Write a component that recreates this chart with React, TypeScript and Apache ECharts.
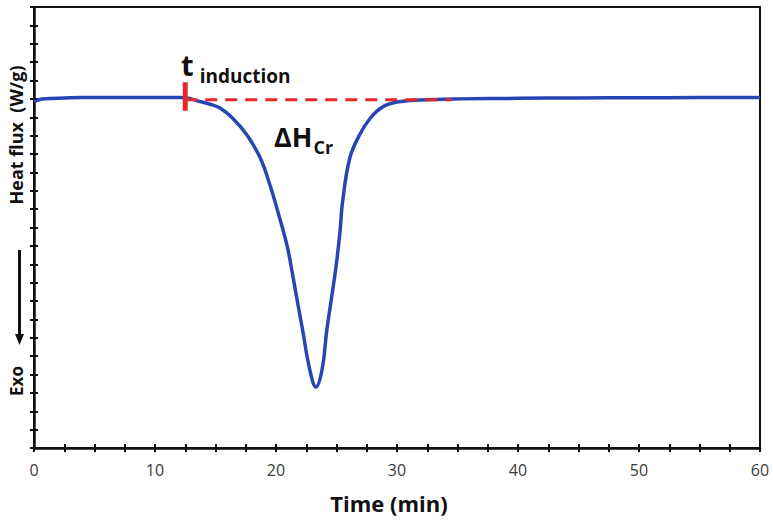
import React, { useEffect, useRef } from "react";
import * as echarts from "echarts";

const timeMin = [0, 0.5, 1, 2, 4, 6, 8, 10, 12, 12.5, 13.7, 14.5, 15.4, 16.4, 17.6, 18.7, 19.5, 20.3, 20.9, 21.2, 21.7, 22.2, 22.8, 23.3, 23.8, 24.2, 24.6, 25.0, 25.3, 25.5, 26.1, 26.9, 27.8, 28.8, 30.0, 31.9, 35.2, 40, 45, 50, 55, 60];
const heatFlux = [18.85, 18.97, 19.01, 19.04, 19.07, 19.08, 19.08, 19.08, 19.07, 19.06, 18.86, 18.72, 18.49, 17.96, 17.03, 15.78, 14.31, 12.52, 11.05, 10.07, 8.22, 6.42, 4.24, 3.32, 4.24, 6.42, 8.22, 10.07, 11.86, 13.39, 15.78, 17.03, 17.96, 18.56, 18.83, 18.94, 19.0, 19.03, 19.05, 19.06, 19.07, 19.07];
const baselineTime = [12.5, 34.5];
const baselineFlux = [18.95, 18.95];
const inductionTime = 12.5;
const inductionMarkFlux = [19.9, 18.35];
const xTickLabels = [0, 10, 20, 30, 40, 50, 60];

export default function App() {
  const ref = useRef<HTMLDivElement>(null);
  useEffect(() => {
    const chart = echarts.init(ref.current!, null, { renderer: "svg" });
    const font = "'Open Sans', 'DejaVu Sans', sans-serif";
    const xBase = {
      type: "value",
      min: 0,
      max: 60,
      interval: 2.5,
      splitLine: { show: false },
    };
    const yBase = {
      type: "value",
      min: 0,
      max: 24,
      interval: 1,
      splitLine: { show: false },
    };
    chart.setOption({
      animation: false,
      backgroundColor: "#ffffff",
      grid: {
        left: 34,
        right: 13,
        top: 7,
        bottom: 74,
        show: true,
        borderColor: "#111",
        borderWidth: 2,
        backgroundColor: "transparent",
      },
      xAxis: [
        {
          ...xBase,
          axisLine: { show: true, lineStyle: { color: "#111", width: 2.5 } },
          axisTick: { show: true, inside: false, length: 4, lineStyle: { color: "#111", width: 2 } },
          axisLabel: {
            show: true,
            margin: 14,
            color: "#3a3a3a",
            fontSize: 16,
            fontFamily: font,
            formatter: (v: number) => (xTickLabels.includes(v) ? String(v) : ""),
            showMinLabel: true,
            showMaxLabel: true,
          },
        },
        {
          ...xBase,
          position: "bottom",
          axisLine: { show: false },
          axisTick: { show: true, inside: true, length: 4, lineStyle: { color: "#111", width: 2 } },
          axisLabel: { show: false },
        },
      ],
      yAxis: [
        {
          ...yBase,
          axisLine: { show: true, lineStyle: { color: "#111", width: 2.5 } },
          axisTick: { show: true, inside: false, length: 4, lineStyle: { color: "#111", width: 2 } },
          axisLabel: { show: false },
        },
        {
          ...yBase,
          position: "left",
          axisLine: { show: false },
          axisTick: { show: true, inside: true, length: 4, lineStyle: { color: "#111", width: 2 } },
          axisLabel: { show: false },
        },
      ],
      series: [
        {
          type: "line",
          name: "heat flux",
          data: timeMin.map((t, i) => [t, heatFlux[i]]),
          smooth: 0.4,
          showSymbol: false,
          lineStyle: { color: "#2646b4", width: 3.5 },
          z: 3,
        },
        {
          type: "line",
          name: "baseline",
          data: baselineTime.map((t, i) => [t, baselineFlux[i]]),
          showSymbol: false,
          lineStyle: { color: "#e8262a", width: 3, type: [12, 8] },
          z: 4,
        },
        {
          type: "line",
          name: "induction",
          data: inductionMarkFlux.map((f) => [inductionTime, f]),
          showSymbol: false,
          lineStyle: { color: "#e8262a", width: 5 },
          z: 5,
        },
      ],
      graphic: [
        {
          type: "text",
          x: 181,
          y: 50,
          style: {
            text: "{t|t} {s|induction}",
            fill: "#111",
            fontFamily: font,
            rich: {
              t: { fontSize: 29, fontWeight: "bold", fontFamily: font, fill: "#111", verticalAlign: "bottom" },
              s: { fontSize: 19, fontWeight: "bold", fontFamily: font, fill: "#111", verticalAlign: "bottom", padding: [0, 0, -6, 3] },
            },
          },
        },
        {
          type: "text",
          x: 274,
          y: 123,
          style: {
            text: "{d|ΔH}{s|Cr}",
            fill: "#111",
            fontFamily: font,
            rich: {
              d: { fontSize: 27, fontWeight: "bold", fontFamily: font, fill: "#111", verticalAlign: "bottom" },
              s: { fontSize: 18, fontWeight: "bold", fontFamily: font, fill: "#111", verticalAlign: "bottom", padding: [0, 0, -6, 1] },
            },
          },
        },
        {
          type: "text",
          x: 16,
          y: 135,
          rotation: Math.PI / 2,
          style: {
            text: "Heat flux  (W/g)",
            fill: "#111",
            fontSize: 18,
            fontWeight: "bold",
            fontFamily: font,
            align: "center",
            verticalAlign: "middle",
          },
        },
        {
          type: "text",
          x: 16,
          y: 381,
          rotation: Math.PI / 2,
          style: {
            text: "Exo",
            fill: "#111",
            fontSize: 17,
            fontWeight: "bold",
            fontFamily: font,
            align: "center",
            verticalAlign: "middle",
          },
        },
        {
          type: "line",
          shape: { x1: 19.5, y1: 250, x2: 19.5, y2: 336 },
          style: { stroke: "#111", lineWidth: 3 },
        },
        {
          type: "polygon",
          shape: { points: [[15, 334], [24, 334], [19.5, 345]] },
          style: { fill: "#111" },
        },
        {
          type: "text",
          x: 389,
          y: 503,
          style: {
            text: "Time (min)",
            fill: "#111",
            fontSize: 22,
            fontWeight: "bold",
            fontFamily: font,
            align: "center",
            verticalAlign: "middle",
          },
        },
      ],
    });
    return () => chart.dispose();
  }, []);
  return (
    <div
      ref={ref}
      style={{ position: "fixed", left: 0, top: 0, width: 773, height: 522 }}
    />
  );
}
